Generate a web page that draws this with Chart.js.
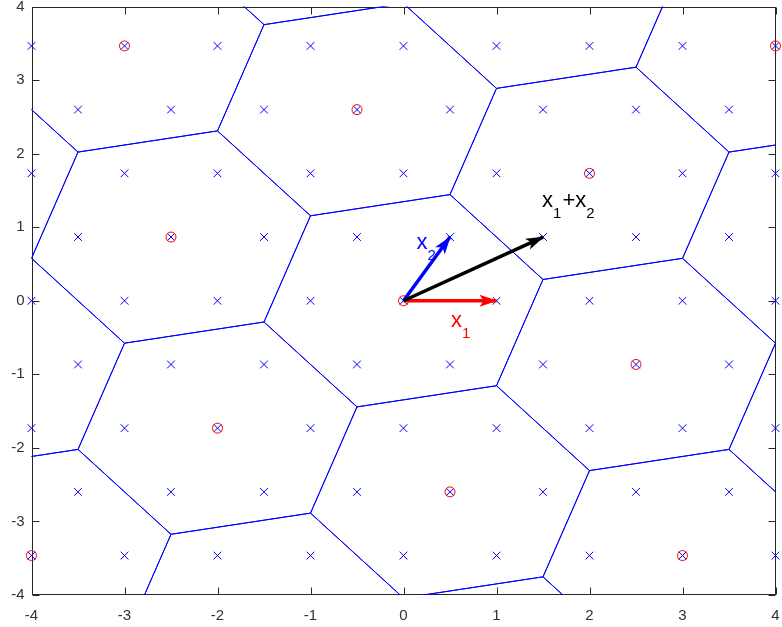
<!DOCTYPE html>
<html>
<head>
<meta charset="utf-8">
<script src="https://cdn.jsdelivr.net/npm/chart.js@4.4.1/dist/chart.umd.min.js"></script>
<style>
html, body { margin: 0; padding: 0; background: #fff; }
#wrap { width: 782px; height: 627px; }
</style>
</head>
<body>
<div id="wrap"><canvas id="lattice"></canvas></div>
<script>
// fine lattice: rows sqrt(3)/2 apart, alternating integer / half-integer x
const rowY = [-3.464, -2.598, -1.732, -0.866, 0, 0.866, 1.732, 2.598, 3.464];
const evenRowX = [-4, -3, -2, -1, 0, 1, 2, 3, 4];
const oddRowX = [-3.5, -2.5, -1.5, -0.5, 0.5, 1.5, 2.5, 3.5];

// coarse lattice points (red circles)
const coarseX = [0, -2.5, 2.5, 2, -2, -0.5, 0.5, -3, 4, 3, -4];
const coarseY = [0, 0.866, -0.866, 1.732, -1.732, 2.598, -2.598, 3.464, 3.464, -3.464, -3.464];

// cell centres outside the axes whose cells still reach into view
const outerX = [4.5, -4.5, -5, 5, 1.5, -1.5, -5.5, 5.5, -1, 1];
const outerY = [0.866, -0.866, 1.732, -1.732, 4.33, -4.33, 4.33, -4.33, 5.196, -5.196];

// hexagon corners relative to the cell centre
const hexDx = [1.5, 0.5, -1, -1.5, -0.5, 1];
const hexDy = [0.289, 1.443, 1.155, -0.289, -1.443, -1.155];

// arrows x1, x2, x1+x2 from the origin
const arrowX = [1, 0.5, 1.5];
const arrowY = [0, 0.866, 0.866];
const arrowColors = ['#ff0000', '#0000ff', '#000000'];

// text labels: position (data units), colour and [text, isSubscript] parts
const labelX = [0.51, 0.14, 1.49];
const labelY = [-0.36, 0.70, 1.27];
const labelColors = ['#ff0000', '#0000ff', '#000000'];
const labelParts = [
  [['x', false], ['1', true]],
  [['x', false], ['2', true]],
  [['x', false], ['1', true], ['+', false], ['x', false], ['2', true]]
];

const FONT = '"Liberation Sans", Arial, Helvetica, sans-serif';

const fineX = [], fineY = [];
rowY.forEach((y, k) => {
  const xs = k % 2 === 0 ? evenRowX : oddRowX;
  xs.forEach(x => { fineX.push(x); fineY.push(y); });
});

const cellX = coarseX.concat(outerX);
const cellY = coarseY.concat(outerY);

const arrowSets = [2, 1, 0].map(i => ({
  data: [{ x: 0, y: 0 }, { x: arrowX[i], y: arrowY[i] }],
  showLine: true,
  borderColor: arrowColors[i],
  borderWidth: 3.5,
  pointRadius: 0,
  clip: false,
  arrowHead: true
}));

const coarseSet = {
  data: coarseX.map((x, i) => ({ x: x, y: coarseY[i] })),
  showLine: false,
  pointStyle: 'circle',
  pointRadius: 5,
  pointBorderColor: '#ff0000',
  pointBackgroundColor: 'rgba(0,0,0,0)',
  pointBorderWidth: 1,
  clip: false
};

const fineSet = {
  data: fineX.map((x, i) => ({ x: x, y: fineY[i] })),
  showLine: false,
  pointStyle: 'crossRot',
  pointRadius: 5.5,
  pointBorderColor: '#0000ff',
  pointBorderWidth: 1,
  clip: false
};

const hexSets = cellX.map((cx, i) => ({
  data: hexDx.concat(hexDx[0]).map((dx, j) => ({ x: cx + dx, y: cellY[i] + hexDy[j % 6] })),
  showLine: true,
  borderColor: '#0000ff',
  borderWidth: 1,
  pointRadius: 0,
  clip: 0
}));

// box around the axes with inward ticks on all four sides
const axesBox = {
  id: 'axesBox',
  beforeDatasetsDraw(chart) {
    const { ctx, chartArea: a, scales: { x, y } } = chart;
    const L = Math.round(a.left) + 0.5, R = Math.round(a.right) - 0.5;
    const T = Math.round(a.top) + 0.5, B = Math.round(a.bottom) - 0.5;
    const len = 7;
    ctx.save();
    ctx.strokeStyle = '#262626';
    ctx.lineWidth = 1;
    ctx.beginPath();
    x.ticks.forEach(t => {
      const p = Math.round(x.getPixelForValue(t.value)) + 0.5;
      ctx.moveTo(p, B); ctx.lineTo(p, B - len);
      ctx.moveTo(p, T); ctx.lineTo(p, T + len);
    });
    y.ticks.forEach(t => {
      const p = Math.round(y.getPixelForValue(t.value)) + 0.5;
      ctx.moveTo(L, p); ctx.lineTo(L + len, p);
      ctx.moveTo(R, p); ctx.lineTo(R - len, p);
    });
    ctx.stroke();
    ctx.strokeRect(L, T, R - L, B - T);
    ctx.restore();
  }
};

// arrow heads at the ends of the arrow datasets, then the labels
const arrowsAndText = {
  id: 'arrowsAndText',
  afterDatasetsDraw(chart) {
    const { ctx, scales: { x, y } } = chart;
    ctx.save();
    chart.data.datasets.forEach((ds, i) => {
      if (!ds.arrowHead) return;
      const pts = chart.getDatasetMeta(i).data;
      const p0 = pts[0], p1 = pts[1];
      const ang = Math.atan2(p1.y - p0.y, p1.x - p0.x);
      const c = Math.cos(ang), s = Math.sin(ang);
      const hl = 17, hw = 6;
      ctx.fillStyle = ds.borderColor;
      ctx.beginPath();
      ctx.moveTo(p1.x + c, p1.y + s);
      ctx.lineTo(p1.x - hl * c - hw * s, p1.y - hl * s + hw * c);
      ctx.lineTo(p1.x - 0.75 * hl * c, p1.y - 0.75 * hl * s);
      ctx.lineTo(p1.x - hl * c + hw * s, p1.y - hl * s - hw * c);
      ctx.closePath();
      ctx.fill();
    });
    ctx.textBaseline = 'alphabetic';
    ctx.textAlign = 'left';
    labelParts.forEach((parts, i) => {
      let px = x.getPixelForValue(labelX[i]);
      const py = y.getPixelForValue(labelY[i]);
      ctx.fillStyle = labelColors[i];
      parts.forEach(([txt, sub]) => {
        ctx.font = (sub ? '15px ' : '22px ') + FONT;
        ctx.fillText(txt, px, sub ? py + 11 : py);
        px += ctx.measureText(txt).width + (sub ? 1 : 0);
      });
    });
    ctx.restore();
  }
};

const tickFont = { family: FONT, size: 15, lineHeight: 1 };

new Chart(document.getElementById('lattice'), {
  type: 'scatter',
  data: { datasets: arrowSets.concat([coarseSet, fineSet], hexSets) },
  options: {
    responsive: true,
    maintainAspectRatio: false,
    animation: false,
    layout: { padding: { top: 6, right: 5, left: 0, bottom: 0 } },
    plugins: { legend: { display: false }, tooltip: { enabled: false } },
    scales: {
      x: {
        type: 'linear', min: -4, max: 4,
        ticks: { stepSize: 1, color: '#333333', font: tickFont, padding: 13 },
        grid: { display: false, drawTicks: false },
        border: { display: false },
        afterFit: s => { s.height = 32; s.paddingLeft = 0; s.paddingRight = 0; }
      },
      y: {
        type: 'linear', min: -4, max: 4,
        ticks: { stepSize: 1, color: '#333333', font: tickFont, padding: 7 },
        grid: { display: false, drawTicks: false },
        border: { display: false },
        afterFit: s => { s.width = 31.5; s.paddingTop = 0; s.paddingBottom = 0; }
      }
    }
  },
  plugins: [axesBox, arrowsAndText]
});
</script>
</body>
</html>
